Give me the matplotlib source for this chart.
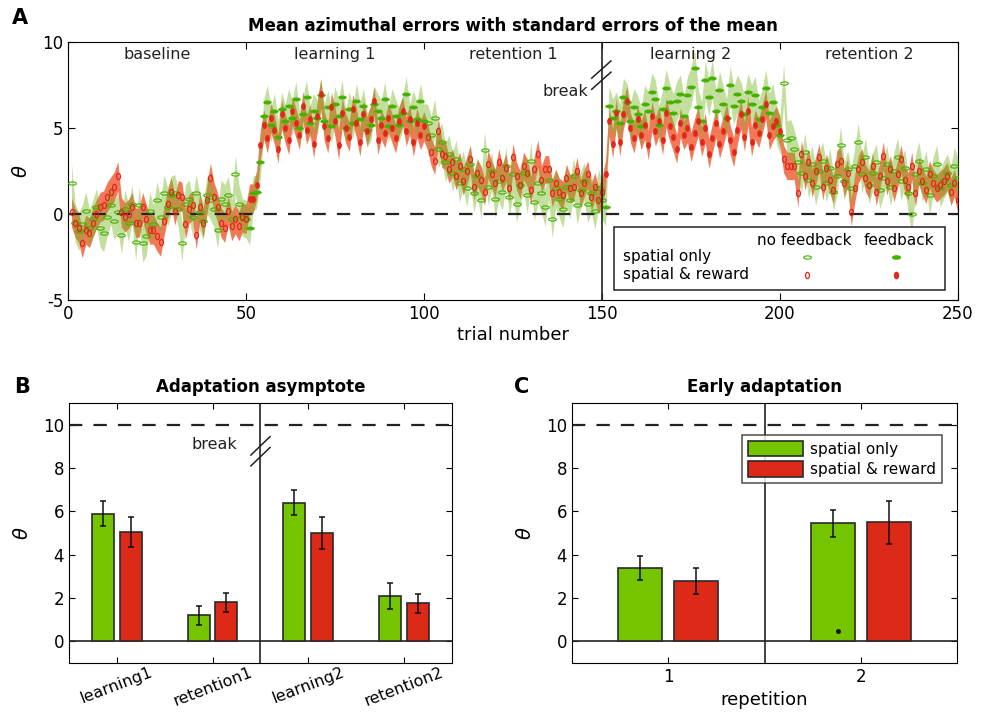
import matplotlib
matplotlib.use("Agg")
import matplotlib.pyplot as plt
import matplotlib.transforms as mtransforms
import numpy as np
from matplotlib.path import Path

# ---- panel A: mean error per trial (5 blocks of 50) ----
phase_names = ["baseline", "learning 1", "retention 1", "learning 2", "retention 2"]
phase_feedback = [False, True, False, True, False]

green_baseline = [1.8, -0.5, -1.0, -0.6, 0.2, -0.8, -0.3, 0.4, -0.8, -1.1,
                  -0.2, 0.5, -0.4, 0.1, -1.2, 0.3, -0.5, 0.6, -1.6, 0.5,
                  -1.7, -1.3, 0.2, -0.6, 0.8, -0.2, 1.2, 0.4, 1.1, 1.2,
                  0.3, -1.7, 0.6, 0.9, -0.2, 1.2, 0.1, -0.4, 1.1, 0.8,
                  0.3, -0.9, 0.9, 0.6, 1.1, -0.3, 2.3, 0.6, -0.2, -0.3]
green_learning1 = [-0.8, 1.2, 1.3, 3.0, 5.7, 6.5, 5.2, 6.0, 4.5, 6.1,
                   5.4, 6.3, 5.6, 6.7, 5.0, 5.8, 6.8, 5.3, 6.0, 5.6,
                   6.9, 5.4, 6.2, 5.1, 6.4, 5.7, 6.8, 5.0, 6.1, 5.3,
                   6.6, 5.5, 6.3, 4.9, 5.2, 6.4, 6.0, 5.6, 6.7, 5.1,
                   6.3, 5.7, 5.2, 5.9, 7.0, 5.4, 6.2, 5.5, 6.6, 5.4]
green_retention1 = [5.3, 4.6, 5.6, 3.8, 4.2, 3.0, 3.5, 2.4, 3.2, 1.8,
                    2.6, 1.5, 2.9, 1.2, 2.2, 0.8, 3.7, 1.6, 2.5, 0.9,
                    1.9, 1.3, 2.8, 1.0, 2.3, 0.6, 1.7, 2.4, 1.1, 3.1,
                    0.7, 1.8, 1.2, 0.4, 2.0, -0.3, 1.5, 0.9, 0.3, 1.6,
                    0.8, 2.2, 0.5, 1.4, 1.9, 0.6, 1.2, 0.2, 1.5, 0.8]
green_learning2 = [0.4, 6.3, 5.6, 6.0, 5.3, 6.8, 6.5, 5.4, 6.2, 5.8,
                   5.1, 6.4, 6.0, 7.1, 6.7, 5.2, 6.1, 7.3, 6.5, 5.9,
                   6.6, 7.0, 5.7, 6.9, 7.4, 8.5, 6.2, 5.4, 7.8, 6.8,
                   7.9, 6.0, 7.2, 6.4, 5.6, 7.5, 6.3, 7.0, 6.6, 5.8,
                   7.1, 6.4, 6.9, 5.5, 6.2, 7.3, 5.9, 6.5, 5.2, 4.6]
green_retention2 = [7.6, 4.3, 4.4, 3.8, 3.0, 2.4, 3.6, 2.0, 2.9, 1.6,
                    2.5, 3.1, 1.8, 2.7, 1.3, 2.2, 4.0, 1.9, 2.6, 1.5,
                    2.8, 4.2, 2.3, 3.3, 1.7, 2.4, 3.0, 1.4, 2.1, 2.9,
                    1.6, 2.5, 3.3, 1.9, 2.7, 1.2, 0.0, 2.3, 3.1, 1.8,
                    2.6, 1.1, 2.2, 2.9, 1.5, 2.0, 2.4, 1.7, 2.8, 2.1]

red_baseline = [0.1, -0.5, -0.8, -1.7, -0.9, -1.1, -0.5, 0.0, 0.4, 0.5,
                1.0, 1.3, 1.6, 2.2, 0.1, -0.2, 0.0, 0.4, -0.5, -0.5,
                0.4, -0.3, -0.9, -0.9, -1.3, -1.6, -0.4, 0.6, 1.3, 0.2,
                1.1, 1.0, -0.6, 0.3, 0.5, -1.2, 0.4, -0.5, 0.8, 2.1,
                1.0, 0.4, -0.5, -0.8, 0.2, -0.7, -0.3, -0.7, -0.2, -0.3]
red_learning1 = [0.9, 0.9, 1.7, 4.0, 5.2, 4.4, 5.6, 4.9, 3.8, 5.8,
                 5.0, 4.3, 6.0, 5.3, 4.6, 6.3, 4.9, 5.5, 4.1, 5.7,
                 7.0, 5.1, 4.4, 6.2, 5.4, 4.0, 5.9, 5.0, 4.5, 6.1,
                 5.3, 4.2, 5.8, 4.8, 5.5, 6.6, 4.3, 5.2, 4.7, 5.6,
                 5.0, 4.4, 5.4, 6.0, 4.8, 5.5, 4.2, 5.3, 4.6, 5.1]
red_retention1 = [4.5, 3.6, 3.1, 4.8, 3.5, 3.4, 2.6, 3.0, 2.2, 2.8,
                  1.9, 2.5, 3.2, 1.6, 2.4, 2.0, 1.3, 2.9, 2.3, 1.8,
                  3.0, 2.1, 2.7, 1.5, 3.3, 2.2, 1.7, 2.8, 2.4, 1.4,
                  2.6, 3.5, 2.0, 2.6, 2.6, 1.2, 1.8, 1.3, 1.1, 2.1,
                  1.5, 1.6, 2.5, 1.2, 1.8, 2.3, 1.0, 1.6, 0.8, 1.3]
red_learning2 = [2.3, 5.4, 4.1, 5.9, 4.2, 5.8, 6.6, 5.0, 4.4, 5.5,
                 4.6, 5.2, 4.0, 5.7, 4.8, 5.4, 4.3, 5.9, 5.1, 4.5,
                 3.8, 5.3, 4.6, 5.0, 3.9, 4.7, 5.4, 4.2, 5.0, 3.5,
                 4.4, 5.3, 4.1, 4.8, 5.6, 4.3, 3.6, 4.9, 5.8, 4.5,
                 6.0, 4.2, 5.2, 4.7, 5.5, 6.4, 4.6, 5.1, 5.4, 4.8]
red_retention2 = [3.2, 2.8, 2.8, 2.8, 1.2, 3.5, 2.2, 3.0, 1.8, 2.5,
                  3.3, 1.6, 2.7, 2.0, 1.4, 2.9, 3.1, 1.8, 2.4, 0.1,
                  1.5, 2.6, 3.0, 2.1, 1.7, 2.8, 1.3, 2.2, 3.4, 1.9,
                  2.6, 1.5, 2.3, 3.2, 2.0, 1.6, 2.8, 1.2, 2.5, 1.9,
                  1.4, 2.3, 1.8, 1.5, 1.7, 1.9, 2.2, 1.3, 1.8, 0.8]

# standard error of the mean, one value per block
green_sem = [1.1, 1.0, 1.1, 1.1, 1.1]
red_sem = [0.85, 0.85, 0.8, 0.85, 0.8]

# ---- panel B: adaptation asymptote ----
b_labels = ["learning1", "retention1", "learning2", "retention2"]
b_green = [5.9, 1.2, 6.4, 2.1]
b_green_err = [0.58, 0.45, 0.58, 0.6]
b_red = [5.05, 1.8, 5.0, 1.75]
b_red_err = [0.68, 0.43, 0.72, 0.45]

# ---- panel C: early adaptation ----
c_labels = ["1", "2"]
c_green = [3.4, 5.45]
c_green_err = [0.55, 0.63]
c_red = [2.8, 5.5]
c_red_err = [0.6, 1.0]
c_dot = (1.88, 0.5)

GREEN_BAR = "#74c400"
RED_BAR = "#dd2a18"
GREEN_BAND = "#78b828"
RED_BAND = "#f2603a"
GREEN_MK = "#46b000"
RED_MK = "#e2261a"

plt.rcParams["font.family"] = "DejaVu Sans"
plt.rcParams["axes.unicode_minus"] = False
fig = plt.figure(figsize=(9.84, 7.14), dpi=100)

# ------------------------------------------------------------------ A
axA = fig.add_axes([0.0691, 0.5798, 0.9045, 0.3613])
green = np.concatenate([green_baseline, green_learning1, green_retention1,
                        green_learning2, green_retention2])
red = np.concatenate([red_baseline, red_learning1, red_retention1,
                      red_learning2, red_retention2])
n_block = len(green_baseline)
gsem = np.repeat(green_sem, n_block)
rsem = np.repeat(red_sem, n_block)
fb = np.repeat(phase_feedback, n_block)
trials = np.arange(1, len(green) + 1)

axA.fill_between(trials, red - rsem, red + rsem, color=RED_BAND, alpha=0.85,
                 lw=0, zorder=2)
axA.fill_between(trials, green - gsem, green + gsem, color=GREEN_BAND,
                 alpha=0.45, lw=0, zorder=3)

circ = Path.unit_circle()
h_ell = circ.transformed(mtransforms.Affine2D().scale(1.0, 0.42))
v_ell = circ.transformed(mtransforms.Affine2D().scale(0.62, 1.0))

axA.plot(trials[fb], green[fb], ls="none", marker=h_ell, ms=5.5,
         mfc=GREEN_MK, mec=GREEN_MK, mew=0.5, zorder=5)
axA.plot(trials[~fb], green[~fb], ls="none", marker=h_ell, ms=5.5,
         mfc="none", mec=GREEN_MK, mew=0.8, zorder=5)
axA.plot(trials[fb], red[fb], ls="none", marker=v_ell, ms=4.5,
         mfc=RED_MK, mec=RED_MK, mew=0.5, zorder=6)
axA.plot(trials[~fb], red[~fb], ls="none", marker=v_ell, ms=4.5,
         mfc="none", mec=RED_MK, mew=0.9, zorder=6)

axA.axhline(0, color="#222222", lw=1.6, ls=(0, (6, 5)), zorder=4)
axA.axvline(150, color="#222222", lw=1.2, zorder=7)
axA.set_xlim(0, 250)
axA.set_ylim(-5, 10)
axA.set_xticks([0, 50, 100, 150, 200, 250])
axA.set_yticks([-5, 0, 5, 10])
axA.tick_params(direction="in", top=True, right=True, labelsize=12, length=5)
axA.set_xlabel("trial number", fontsize=13, labelpad=2)
axA.set_ylabel(r"$\theta$", fontsize=14, labelpad=8)
axA.set_title("Mean azimuthal errors with standard errors of the mean",
              fontsize=12, fontweight="bold", pad=8)
for i, name in enumerate(phase_names):
    axA.text(25 + 50 * i, 9.25, name, ha="center", va="center", fontsize=11.5,
             color="#222222")

# break marks
for dy in (0.0, 0.65):
    axA.plot([147.1, 152.5], [7.25 + dy, 8.25 + dy], color="#222222", lw=1.1,
             clip_on=False, zorder=8)
axA.text(146, 7.1, "break", ha="right", va="center", fontsize=11.5,
         color="#222222")

# legend box for panel A
legA = plt.Rectangle((0.613, 0.039), 0.372, 0.244, transform=axA.transAxes,
                     fill=True, fc="white", ec="#222222", lw=1.1, zorder=9)
axA.add_patch(legA)
axA.text(0.827, 0.229, "no feedback", transform=axA.transAxes, ha="center",
         va="center", fontsize=11, zorder=10)
axA.text(0.934, 0.229, "feedback", transform=axA.transAxes, ha="center",
         va="center", fontsize=11, zorder=10)
axA.text(0.624, 0.168, "spatial only", transform=axA.transAxes, ha="left",
         va="center", fontsize=11, zorder=10)
axA.text(0.624, 0.097, "spatial & reward", transform=axA.transAxes, ha="left",
         va="center", fontsize=11, zorder=10)
axA.plot([0.830], [0.168], transform=axA.transAxes, marker=h_ell, ms=5.5,
         mfc="none", mec=GREEN_MK, mew=0.8, zorder=10, clip_on=False)
axA.plot([0.930], [0.168], transform=axA.transAxes, marker=h_ell, ms=5.5,
         mfc=GREEN_MK, mec=GREEN_MK, zorder=10, clip_on=False)
axA.plot([0.830], [0.097], transform=axA.transAxes, marker=v_ell, ms=4.5,
         mfc="none", mec=RED_MK, mew=0.9, zorder=10, clip_on=False)
axA.plot([0.930], [0.097], transform=axA.transAxes, marker=v_ell, ms=4.5,
         mfc=RED_MK, mec=RED_MK, zorder=10, clip_on=False)


# ------------------------------------------------------------------ B, C
def bar_panel(ax, labels, g, ge, r, re_, title):
    x = np.arange(1, len(labels) + 1)
    w = 0.23
    ax.bar(x - 0.145, g, w, color=GREEN_BAR, ec="#2a2a2a", lw=1.2, zorder=3,
           label="spatial only")
    ax.bar(x + 0.145, r, w, color=RED_BAR, ec="#2a2a2a", lw=1.2, zorder=3,
           label="spatial & reward")
    ax.errorbar(x - 0.145, g, yerr=ge, fmt="none", ecolor="#111111",
                elinewidth=1.1, capsize=2.5, capthick=1.1, zorder=4)
    ax.errorbar(x + 0.145, r, yerr=re_, fmt="none", ecolor="#111111",
                elinewidth=1.1, capsize=2.5, capthick=1.1, zorder=4)
    ax.axhline(0, color="#222222", lw=1.2, zorder=2)
    ax.axhline(10, color="#222222", lw=1.6, ls=(0, (6, 5)), zorder=2)
    ax.set_xlim(0.5, len(labels) + 0.5)
    ax.set_ylim(-1, 11)
    ax.set_yticks([0, 2, 4, 6, 8, 10])
    ax.set_xticks(x)
    ax.tick_params(direction="in", top=True, right=True, labelsize=12,
                   length=4)
    ax.set_ylabel(r"$\theta$", fontsize=14, labelpad=8)
    ax.set_title(title, fontsize=12, fontweight="bold", pad=8)
    return x


axB = fig.add_axes([0.0701, 0.0714, 0.3892, 0.3641])
bar_panel(axB, b_labels, b_green, b_green_err, b_red, b_red_err,
          "Adaptation asymptote")
axB.set_xticklabels(b_labels, rotation=21, ha="center", fontsize=11.5)
axB.tick_params(axis="x", pad=1)
axB.axvline(2.5, color="#222222", lw=1.2, zorder=2)
for dy in (0.0, 0.5):
    axB.plot([2.40, 2.60], [8.1 + dy, 8.95 + dy], color="#222222", lw=1.1,
             zorder=5)
axB.text(2.02, 9.1, "break", ha="center", va="center", fontsize=11.5,
         color="#222222")

axC = fig.add_axes([0.5813, 0.0714, 0.3913, 0.3641])
bar_panel(axC, c_labels, c_green, c_green_err, c_red, c_red_err,
          "Early adaptation")
axC.set_xticklabels(c_labels, fontsize=12)
axC.set_xlabel("repetition", fontsize=13, labelpad=4)
axC.axvline(1.5, color="#222222", lw=1.2, zorder=2)
axC.plot([c_dot[0]], [c_dot[1]], marker="o", ms=2.5, color="#111111",
         zorder=5)
leg = axC.legend(loc="upper right", bbox_to_anchor=(0.98, 0.905), fontsize=11,
                 frameon=True, fancybox=False, handlelength=3.6,
                 handleheight=1.2, borderpad=0.35, labelspacing=0.3,
                 handletextpad=0.5)
leg.get_frame().set_edgecolor("#222222")
leg.get_frame().set_linewidth(1.1)

# panel letters
fig.text(0.012, 0.975, "A", fontsize=15, fontweight="bold", va="center")
fig.text(0.014, 0.458, "B", fontsize=15, fontweight="bold", va="center")
fig.text(0.522, 0.458, "C", fontsize=15, fontweight="bold", va="center")

fig.savefig("out.png", dpi=100)
